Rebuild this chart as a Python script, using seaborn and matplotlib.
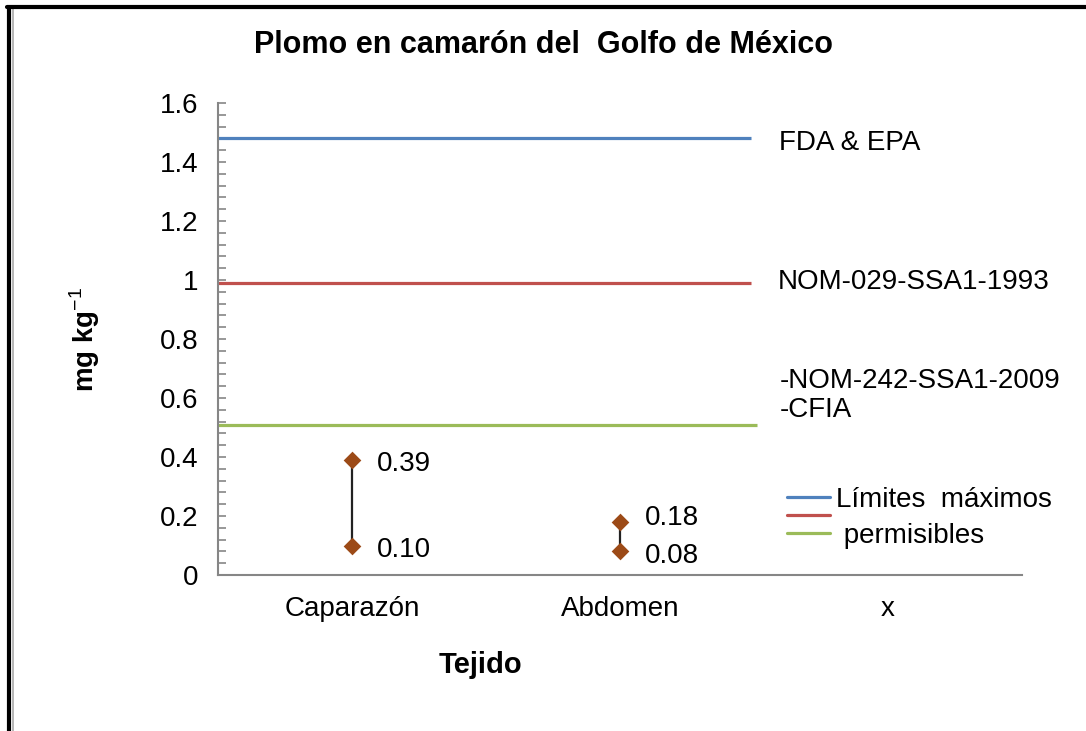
import pandas as pd
import seaborn as sns
import matplotlib.pyplot as plt
import matplotlib.ticker as mtick
from matplotlib.lines import Line2D

# data
tissues = ["Caparazón", "Abdomen", "x"]
sample_tissue = ["Caparazón", "Caparazón", "Abdomen", "Abdomen"]
sample_value = [0.39, 0.10, 0.18, 0.08]
sample_label = ["0.39", "0.10", "0.18", "0.08"]

limit_names = ["FDA & EPA", "NOM-029-SSA1-1993", "-NOM-242-SSA1-2009\n-CFIA"]
limit_values = [1.48, 0.99, 0.51]
limit_end = [1.49, 1.49, 1.51]
limit_colors = ["#4F81BD", "#C0504D", "#9BBB59"]

df = pd.DataFrame({"Tejido": sample_tissue, "valor": sample_value, "etiqueta": sample_label})

sns.set_theme(style="white")
plt.rcParams["font.family"] = ["Liberation Sans", "DejaVu Sans"]
plt.rcParams["mathtext.fontset"] = "custom"
plt.rcParams["mathtext.rm"] = "Liberation Sans"
plt.rcParams["mathtext.bf"] = "Liberation Sans:bold"
plt.rcParams["text.color"] = "black"
plt.rcParams["axes.labelcolor"] = "black"
plt.rcParams["xtick.labelcolor"] = "black"
plt.rcParams["ytick.labelcolor"] = "black"

fig = plt.figure(figsize=(10.86, 7.31), dpi=100)
ax = fig.add_axes([0.2007, 0.2134, 0.7403, 0.6457])

# limit lines
limit_lines = []
for val, end, col in zip(limit_values, limit_end, limit_colors):
    ax.hlines(val, -0.5, end, color=col, lw=2.3, zorder=2)
    limit_lines.append(Line2D([], [], color=col, lw=2.3))

# high-low bars
rng = df.groupby("Tejido", sort=False)["valor"].agg(["min", "max"]).reindex(tissues).dropna()
ax.vlines([tissues.index(t) for t in rng.index], rng["min"], rng["max"],
          color="#222222", lw=1.6, zorder=3)

sns.stripplot(data=df, x="Tejido", y="valor", order=tissues, jitter=False,
              marker="D", color="#9C4A17", size=9, linewidth=0, zorder=4, ax=ax)

# value labels
for row in df.itertuples():
    xi = tissues.index(row.Tejido)
    dy = 3 if row.etiqueta == "0.18" else -3
    ax.annotate(row.etiqueta, (xi, row.valor), xytext=(18, dy), textcoords="offset points",
                ha="left", va="center", fontsize=20)

# limit names
offs = [(20, -3), (19, 1), (17, 21)]
for name, val, end, (dx, dy) in zip(limit_names, limit_values, limit_end, offs):
    ax.annotate(name, (end, val), xytext=(dx, dy), textcoords="offset points",
                ha="left", va="center", fontsize=20, linespacing=1.15)

ax.legend(limit_lines, ["Límites  máximos", "", " permisibles"],
          loc="upper left", bbox_to_anchor=(0.708, 0.186), frameon=False,
          fontsize=20, labelspacing=-0.3, handlelength=1.55, handletextpad=0.2,
          borderpad=0, borderaxespad=0)

ax.set_xlim(-0.5, 2.5)
ax.set_ylim(0, 1.6)
ax.yaxis.set_major_locator(mtick.MultipleLocator(0.2))
ax.yaxis.set_minor_locator(mtick.MultipleLocator(0.04))
ax.yaxis.set_major_formatter(mtick.FormatStrFormatter("%g"))
ax.tick_params(axis="y", which="both", direction="in", length=6, width=1.2,
               color="#868686", left=True, labelsize=20, pad=14)
ax.tick_params(axis="x", length=0, labelsize=20, pad=15)

sns.despine(ax=ax, top=True, right=True)
for s in ["left", "bottom"]:
    ax.spines[s].set_color("#868686")
    ax.spines[s].set_linewidth(1.5)

ax.set_ylabel("mg kg$^{-1}$", fontsize=20, fontweight="bold", labelpad=42)
ax.set_xlabel("Tejido", fontsize=21, fontweight="bold")
ax.xaxis.set_label_coords(0.326, -0.16)

fig.text(0.5, 0.938, "Plomo en camarón del  Golfo de México", ha="center", va="center",
         fontsize=22, fontweight="bold")

# frame of the original picture
fig.add_artist(Line2D([9 / 1086, 9 / 1086], [0, 1 - 7 / 731], color="black", lw=3, transform=fig.transFigure))
fig.add_artist(Line2D([12.5 / 1086, 12.5 / 1086], [0, 1 - 9 / 731], color="#aaaaaa", lw=1.2, transform=fig.transFigure))
fig.add_artist(Line2D([7 / 1086, 1], [1 - 7 / 731, 1 - 7 / 731], color="black", lw=3, transform=fig.transFigure))

fig.savefig("out.png", dpi=100)
